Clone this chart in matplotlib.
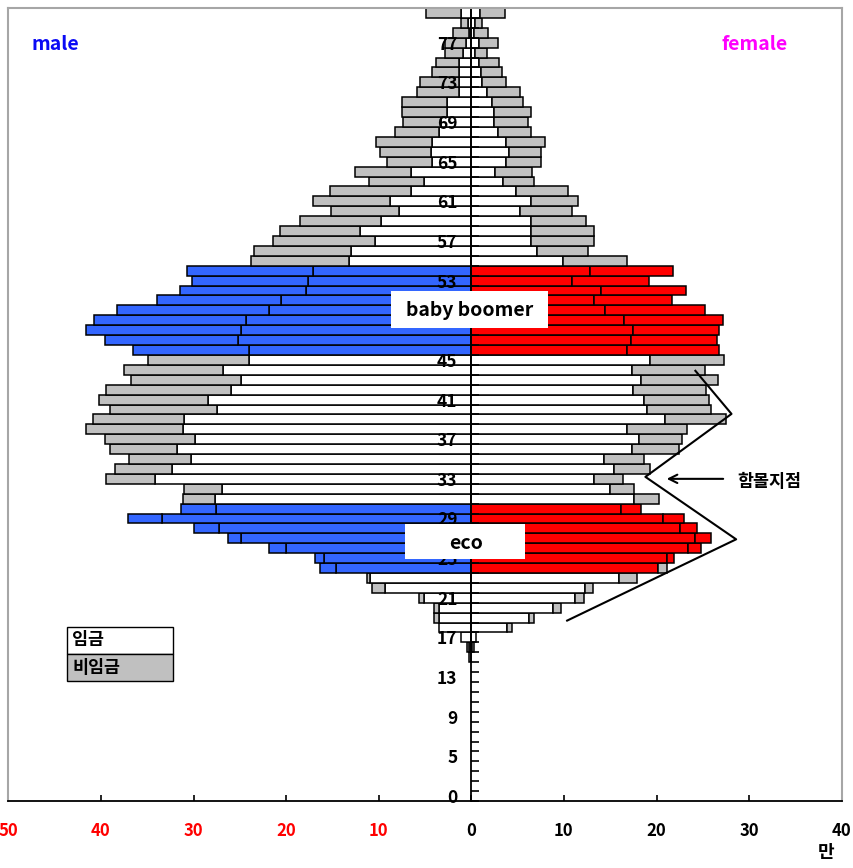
import matplotlib
matplotlib.use("Agg")
import matplotlib.pyplot as plt
from matplotlib.patches import Rectangle
from matplotlib.lines import Line2D

plt.rcParams['font.family'] = ['Noto Sans CJK KR', 'DejaVu Sans']
plt.rcParams['font.weight'] = 'bold'

# ---- data (unit: 만 명), one value per age row, bottom row first ----
n_rows = 80
zeros = [0.0] * 14

male_wage = zeros + [
    0.0, 0.3, 1.1, 3.5, 3.5, 3.5, 5.1, 9.3, 10.9, 14.6,        # 14-23
    15.9, 20.0, 24.9, 27.2, 33.4, 27.6, 27.7, 26.9, 34.2, 32.3,  # 24-33
    30.3, 31.8, 29.8, 31.1, 31.0, 27.5, 28.4, 25.9, 24.9, 26.8,  # 34-43
    24.0, 24.0, 25.2, 24.9, 24.3, 21.8, 20.5, 17.9, 17.6, 17.1,  # 44-53
    13.2, 13.0, 10.4, 12.0, 9.8, 7.8, 8.8, 6.5, 5.1, 6.5,        # 54-63
    4.2, 4.3, 4.2, 3.5, 3.3, 2.6, 2.6, 1.3, 1.3, 1.3,            # 64-73
    1.3, 0.9, 0.6, 0.3, 0.4, 1.1]                                # 74-79
male_nonwage = zeros + [
    0.25, 0.2, 0.0, 0.0, 0.5, 0.5, 0.6, 1.4, 0.4, 1.7,
    1.0, 1.9, 1.4, 2.7, 3.7, 3.8, 3.4, 4.1, 5.3, 6.2,
    6.7, 7.2, 9.8, 10.5, 9.9, 11.5, 11.8, 13.6, 11.8, 10.7,
    10.9, 12.5, 14.4, 16.7, 16.4, 16.5, 13.4, 13.6, 12.6, 13.6,
    10.6, 10.5, 11.0, 8.7, 8.7, 7.4, 8.3, 8.8, 6.0, 6.1,
    4.9, 5.6, 6.1, 4.7, 4.1, 4.9, 4.9, 4.6, 4.2, 2.9,
    2.5, 1.9, 2.2, 1.7, 0.7, 3.8]
female_wage = zeros + [
    0.0, 0.1, 0.5, 3.9, 6.2, 8.8, 11.2, 12.3, 16.0, 20.2,
    21.1, 23.4, 24.2, 22.5, 20.7, 16.2, 17.6, 15.0, 13.2, 15.4,
    14.3, 17.4, 18.1, 16.8, 20.9, 19.0, 18.6, 17.5, 18.3, 17.4,
    19.3, 16.8, 17.2, 17.5, 16.5, 14.4, 13.3, 14.0, 10.9, 12.8,
    9.9, 7.1, 6.5, 6.5, 6.4, 5.3, 6.5, 4.8, 3.4, 2.6,
    3.7, 4.1, 3.7, 2.9, 2.4, 2.5, 2.2, 1.7, 1.2, 1.1,
    0.8, 0.4, 0.8, 0.3, 0.4, 0.9]
female_nonwage = zeros + [
    0.0, 0.2, 0.0, 0.5, 0.6, 0.9, 1.0, 0.8, 1.9, 0.9,
    0.8, 1.4, 1.7, 1.9, 2.3, 2.1, 2.7, 2.6, 3.2, 3.9,
    4.3, 5.0, 4.7, 6.5, 6.6, 6.9, 7.1, 7.8, 8.3, 7.8,
    8.0, 9.9, 9.3, 9.2, 10.7, 10.8, 8.4, 9.2, 8.3, 9.0,
    6.9, 5.5, 6.8, 6.7, 6.0, 5.6, 5.0, 5.6, 3.4, 4.0,
    3.8, 3.4, 4.3, 3.6, 3.7, 4.0, 3.4, 3.6, 2.6, 2.2,
    2.2, 1.3, 2.1, 1.5, 0.8, 2.7]

# highlighted generations (row indices)
boomer_rows = list(range(45, 54))
eco_rows = list(range(23, 30))
eco_rows_female_outer = list(range(24, 30))

ytick_rows = list(range(0, 80, 4))
ytick_labels = ['0'] + [str(r + 1) for r in ytick_rows[1:]]
xticks = list(range(-50, 41, 10))

BLUE = '#3366FF'
RED = '#FF0000'
GRAY = '#C0C0C0'

fig = plt.figure(figsize=(8.54, 8.68), dpi=100)
ax = fig.add_axes([0.00972, 0.07719, 0.97588, 0.91359])

ys = [i + 0.5 for i in range(n_rows)]
m_in_c = [BLUE if (i in boomer_rows or i in eco_rows) else 'white' for i in range(n_rows)]
m_out_c = [BLUE if (i in boomer_rows or i in eco_rows) else GRAY for i in range(n_rows)]
f_in_c = [RED if (i in boomer_rows or i in eco_rows) else 'white' for i in range(n_rows)]
f_out_c = [RED if (i in boomer_rows or i in eco_rows_female_outer) else GRAY for i in range(n_rows)]

kw = dict(height=1.0, edgecolor='black', linewidth=1.1, zorder=1)
for i in range(n_rows):
    if male_wage[i] > 0:
        ax.barh(ys[i], -male_wage[i], left=0, color=m_in_c[i], **kw)
    if male_nonwage[i] > 0:
        ax.barh(ys[i], -male_nonwage[i], left=-male_wage[i], color=m_out_c[i], **kw)
    if female_wage[i] > 0:
        ax.barh(ys[i], female_wage[i], left=0, color=f_in_c[i], **kw)
    if female_nonwage[i] > 0:
        ax.barh(ys[i], female_nonwage[i], left=female_wage[i], color=f_out_c[i], **kw)

ax.set_xlim(-50, 40)
ax.set_ylim(0, 80)

# axes / frame
ax.spines['left'].set_position(('data', 0))
ax.spines['left'].set_color('black')
ax.spines['left'].set_linewidth(1.3)
ax.spines['bottom'].set_color('black')
ax.spines['bottom'].set_linewidth(1.3)
for s in ['top', 'right']:
    ax.spines[s].set_color('#A6A6A6')
    ax.spines[s].set_linewidth(1.5)
ax.add_line(Line2D([0, 0], [0, 1], transform=ax.transAxes, color='#A6A6A6',
                   linewidth=1.5, clip_on=False))

ax.set_xticks(xticks)
ax.set_xticklabels([str(abs(v)) for v in xticks])
for lab, v in zip(ax.get_xticklabels(), xticks):
    lab.set_color(RED if v < 0 else 'black')
ax.tick_params(axis='x', direction='in', length=4, width=1.2, pad=15,
               labelsize=12)

ax.set_yticks(range(0, 81))
ax.set_yticklabels([])
ax.set_yticks([r + 0.5 for r in ytick_rows], minor=True)
ax.set_yticklabels(ytick_labels, minor=True)
ax.tick_params(axis='y', which='major', direction='in', length=6, width=1.2)
ax.tick_params(axis='y', which='minor', length=0, pad=10, labelsize=12.5)

# highlight boxes
ax.add_patch(Rectangle((-8.7, 47.7), 16.95, 3.75, facecolor='white',
                       edgecolor='none', zorder=3))
ax.text(-0.2, 49.5, 'baby boomer', ha='center', va='center', fontsize=14,
        fontweight='bold', zorder=4)
ax.add_patch(Rectangle((-7.2, 24.4), 13.0, 3.55, facecolor='white',
                       edgecolor='none', zorder=3))
ax.text(-0.6, 26.0, 'eco', ha='center', va='center', fontsize=14,
        fontweight='bold', zorder=4)

ax.text(-44.9, 76.3, 'male', color='#0A0AF5', ha='center', va='center',
        fontsize=14, fontweight='bold')
ax.text(30.6, 76.3, 'female', color='#FF00FF', ha='center', va='center',
        fontsize=14, fontweight='bold')

# zigzag showing the dip
zig_x = [24.2, 28.1, 18.8, 28.6, 10.35]
zig_y = [43.4, 39.05, 32.7, 26.4, 18.2]
ax.plot(zig_x, zig_y, color='black', linewidth=1.5, zorder=3)
ax.annotate('', xy=(20.8, 32.5), xytext=(27.5, 32.5),
            arrowprops=dict(arrowstyle='->', color='black', lw=1.5,
                            mutation_scale=15))
ax.text(32.2, 32.2, '함몰지점', ha='center', va='center', fontsize=12.5,
        fontweight='bold')

# legend
ax.add_patch(Rectangle((-43.7, 14.83), 11.5, 2.76, facecolor='white',
                       edgecolor='black', linewidth=1.0, zorder=3))
ax.add_patch(Rectangle((-43.7, 12.07), 11.5, 2.76, facecolor=GRAY,
                       edgecolor='black', linewidth=1.0, zorder=3))
ax.text(-43.1, 16.2, '임금', ha='left', va='center', fontsize=12.5,
        fontweight='bold', zorder=4)
ax.text(-43.1, 13.4, '비임금', ha='left', va='center', fontsize=12.5,
        fontweight='bold', zorder=4)

fig.text(0.967, 0.0173, '만', ha='center', va='center', fontsize=13,
         fontweight='bold')

fig.savefig('out.png', dpi=100)
